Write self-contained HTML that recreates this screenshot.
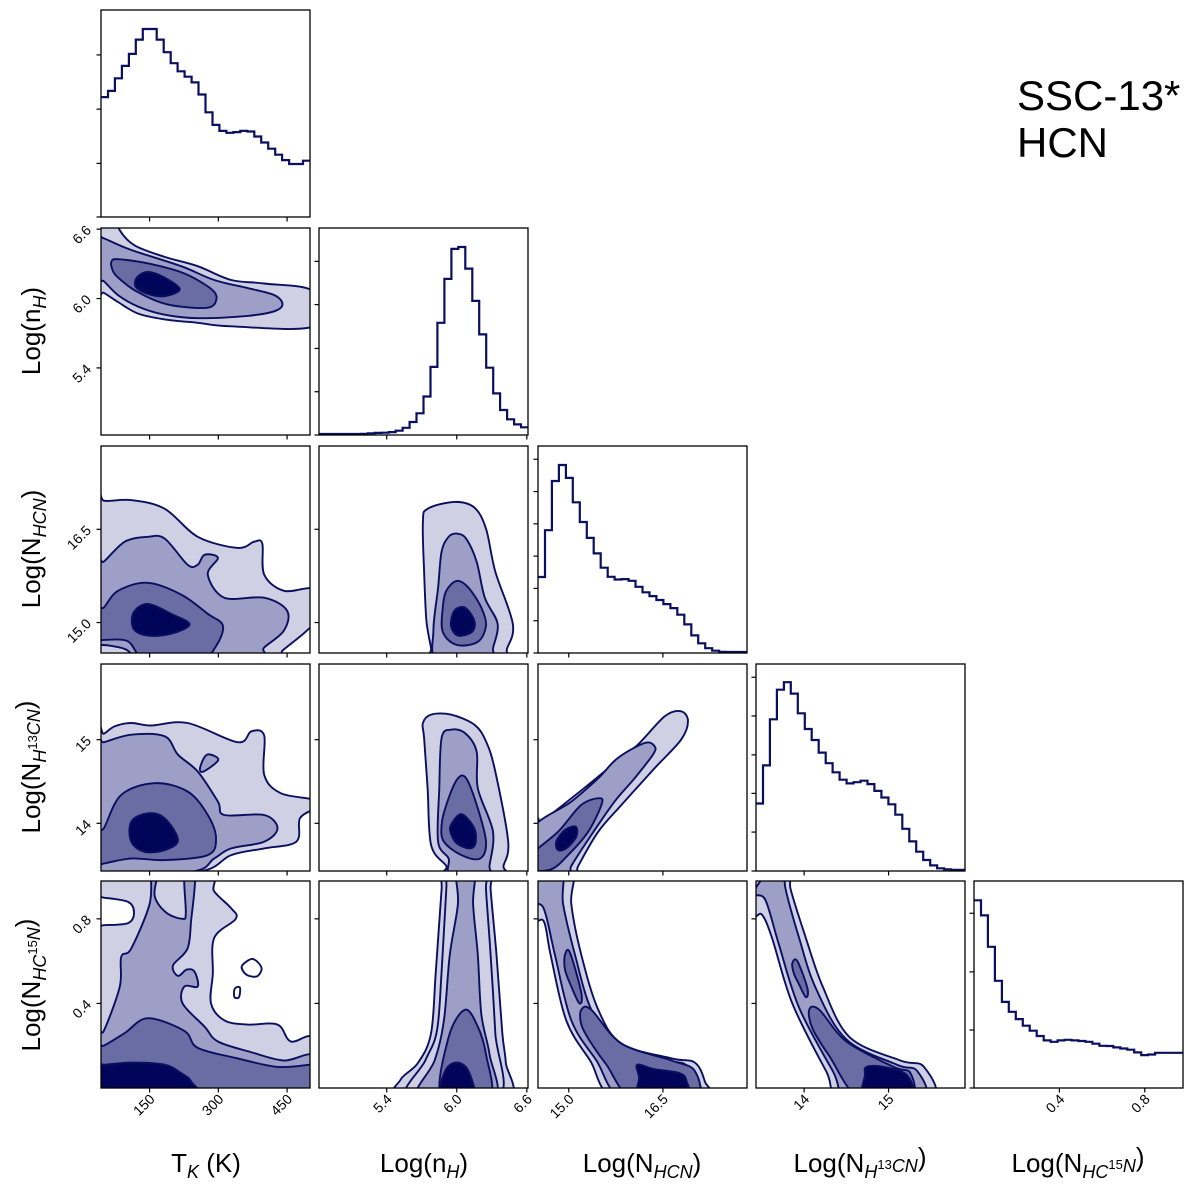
<!DOCTYPE html>
<html><head><meta charset="utf-8">
<style>
html,body{margin:0;padding:0;background:#fff;}
svg{display:block;font-family:"Liberation Sans","DejaVu Sans",sans-serif;}
</style></head>
<body>
<svg id="fig" width="1200" height="1193" viewBox="0 0 1200 1193" xmlns="http://www.w3.org/2000/svg">
<text x="1017" y="110" font-size="42">SSC-13*</text>
<text x="1017" y="157" font-size="42">HCN</text>
<g font-size="26" text-anchor="middle">
<text x="206" y="1172">T<tspan font-size="18" font-style="italic" dy="6">K</tspan><tspan dy="-6"> (K)</tspan></text>
<text x="424" y="1172">Log(n<tspan font-size="18" font-style="italic" dy="6">H</tspan><tspan dy="-6">)</tspan></text>
<text x="642" y="1172">Log(N<tspan font-size="18" font-style="italic" dy="6">HCN</tspan><tspan dy="-6">)</tspan></text>
<text x="860" y="1172">Log(N<tspan font-size="18" font-style="italic" dy="6">H</tspan><tspan font-size="13" dy="-9">13</tspan><tspan font-size="18" font-style="italic" dy="3">CN</tspan><tspan dy="-6">)</tspan></text>
<text x="1078" y="1172">Log(N<tspan font-size="18" font-style="italic" dy="6">HC</tspan><tspan font-size="13" dy="-9">15</tspan><tspan font-size="18" font-style="italic" dy="3">N</tspan><tspan dy="-6">)</tspan></text>
</g>
<g font-size="26" text-anchor="middle">
<text transform="translate(40,331) rotate(-90)">Log(n<tspan font-size="18" font-style="italic" dy="6">H</tspan><tspan dy="-6">)</tspan></text>
<text transform="translate(40,549) rotate(-90)">Log(N<tspan font-size="18" font-style="italic" dy="6">HCN</tspan><tspan dy="-6">)</tspan></text>
<text transform="translate(40,767) rotate(-90)">Log(N<tspan font-size="18" font-style="italic" dy="6">H</tspan><tspan font-size="13" dy="-9">13</tspan><tspan font-size="18" font-style="italic" dy="3">CN</tspan><tspan dy="-6">)</tspan></text>
<text transform="translate(40,985) rotate(-90)">Log(N<tspan font-size="18" font-style="italic" dy="6">HC</tspan><tspan font-size="13" dy="-9">15</tspan><tspan font-size="18" font-style="italic" dy="3">N</tspan><tspan dy="-6">)</tspan></text>
</g>
</svg>
<script>
// ---- data ----
const paramNames = ["tk","nh","nhcn","nh13cn","nhc15n"];
const ranges = [[44,500],[4.82,6.61],[14.51,17.84],[13.43,15.905],[0,0.979]];
const tickVals = [[150,300,450],[5.4,6.0,6.6],[15.0,16.5],[14,15],[0.4,0.8]];
const tickLabels = [["150","300","450"],["5.4","6.0","6.6"],["15.0","16.5"],["14","15"],["0.4","0.8"]];
const histTk = [57.9,60.9,67.0,73.0,78.8,85.7,90.8,90.8,85.7,79.6,74.3,70.4,67.8,65.0,59.2,50.6,44.5,41.6,40.7,41.0,41.6,41.3,38.9,36.0,33.0,30.1,27.5,25.6,25.6,27.2];
const histNh = [0.5,0.5,0.5,0.5,0.5,0.5,0.6,0.8,1.0,1.1,1.4,2.1,3.5,6.3,10.5,18.6,32.9,54.2,75.4,89.9,90.8,80.4,64.8,48.6,32.5,20.1,12.1,7.6,5.1,3.7];
const histHcn = [36.7,59.3,83.1,90.8,84.6,72.8,63.3,55.6,48.1,41.2,36.8,35.5,35.7,34.9,32.0,29.3,27.5,25.6,23.6,21.7,18.5,13.8,8.5,4.7,2.3,1.1,0.6,0.5,0.5,0.5];
const histH13cn = [32.6,51.0,73.3,87.6,91.2,85.7,76.2,68.6,63.3,57.2,52.1,47.7,44.1,42.3,42.9,43.6,42.0,38.7,35.5,32.2,27.2,20.4,14.3,9.3,5.3,2.7,1.3,0.8,0.6,0.6];
const histHc15n = [90.7,83.4,68.2,51.8,41.6,36.8,33.3,30.1,27.7,25.1,23.0,22.3,23.0,23.3,23.0,22.7,22.3,21.4,20.4,20.3,19.6,19.1,18.5,17.2,15.9,16.2,17.0,17.0,17.0,17.0];
const histYTicks = [[0,25.9,52.1,78.3],[0,20.9,41.8,63.0,83.9],[0,15.6,31.2,46.8,62.4,78,93.6],[0,18.8,37.5,56.1,74.9,93.6],[0,28,56.1,84.4]];
const histMax = 100;
// contour polygons: [level, points in data units (x param, y param)]; level -1 = hole
const contour_1_0 = [
 [0,[[38,6.68],[81,6.68],[85,6.59],[117,6.46],[183,6.36],[255,6.28],[328,6.16],[400,6.13],[509,6.06],[509,5.76],[328,5.76],[255,5.79],[183,5.82],[125,5.87],[81,5.97],[50,6.05],[38,6.06]]],
 [1,[[38,6.52],[50,6.52],[110,6.42],[219,6.28],[291,6.16],[364,6.09],[422,6.03],[440,5.95],[422,5.89],[364,5.85],[255,5.83],[183,5.86],[125,5.93],[81,6.03],[50,6.15],[38,6.16]]],
 [2,[[67,6.32],[81,6.34],[151,6.30],[224,6.22],[282,6.09],[296,6.00],[275,5.92],[188,5.95],[122,6.06],[79,6.19],[68,6.26]]],
 [3,[[122,6.18],[146,6.23],[183,6.18],[216,6.08],[183,6.02],[146,6.04],[120,6.10]]]
];
const contour_2_0 = [
 [0,[[38,17.1],[50,16.96],[110,16.97],[183,16.83],[255,16.38],[342,16.2],[378,16.3],[396,16.27],[400,15.77],[443,15.51],[510,15.53],[510,15.05],[490,14.85],[440,14.55],[420,14.4],[38,14.4]]],
 [1,[[38,15.98],[50,15.98],[96,16.3],[146,16.38],[183,16.35],[233,15.93],[255,15.93],[270,16.09],[299,16.04],[277,15.77],[313,15.4],[400,15.4],[450,15.19],[443,14.87],[400,14.6],[372,14.4],[38,14.4]]],
 [2,[[38,15.24],[50,15.24],[81,15.51],[146,15.64],[219,15.45],[277,15.14],[310,14.95],[295,14.62],[259,14.4],[143,14.4],[102,14.7],[50,14.72],[38,14.72]]],
 [0,[[38,14.62],[70,14.62],[102,14.55],[110,14.4],[38,14.4]]],
 [3,[[115,15.16],[146,15.3],[197,15.14],[237,14.97],[197,14.82],[146,14.79],[115,14.9]]]
];
const contour_2_1 = [
 [0,[[5.71,16.62],[5.75,16.83],[5.98,16.94],[6.15,16.85],[6.25,16.51],[6.33,15.82],[6.48,14.98],[6.43,14.58],[6.38,14.4],[5.78,14.4],[5.78,14.58],[5.74,15.03],[5.72,15.82]]],
 [1,[[5.87,16.14],[5.93,16.38],[6.0,16.43],[6.08,16.35],[6.17,15.98],[6.24,15.4],[6.35,14.98],[6.31,14.58],[6.3,14.4],[5.84,14.4],[5.8,14.87],[5.84,15.56]]],
 [2,[[5.91,15.51],[6.0,15.67],[6.1,15.56],[6.21,15.24],[6.25,14.95],[6.18,14.69],[6.0,14.64],[5.88,14.85],[5.88,15.24]]],
 [3,[[5.98,15.19],[6.07,15.24],[6.15,15.03],[6.13,14.85],[6.01,14.79],[5.95,14.95]]]
];
const contour_3_0 = [
 [0,[[38,15.07],[50,15.07],[74,15.16],[110,15.2],[153,15.17],[233,15.2],[342,14.97],[372,15.1],[400,15.05],[400,14.58],[436,14.36],[510,14.28],[510,14.18],[478,14.06],[470,13.78],[400,13.7],[328,13.62],[255,13.42],[38,13.42]]],
 [1,[[38,14.97],[50,14.97],[110,15.06],[183,15.04],[212,14.82],[255,14.62],[299,14.26],[313,14.1],[400,14.1],[429,13.94],[400,13.78],[328,13.7],[291,13.58],[240,13.42],[38,13.42]]],
 [1,[[260,14.66],[275,14.82],[300,14.76],[268,14.62]]],
 [2,[[38,13.94],[50,13.94],[88,14.34],[161,14.48],[233,14.38],[277,14.1],[295,13.82],[277,13.62],[183,13.56],[110,13.58],[50,13.52],[38,13.52]]],
 [3,[[110,14.02],[146,14.12],[183,14.06],[212,13.8],[183,13.68],[139,13.66],[110,13.78]]]
];
const contour_3_1 = [
 [0,[[5.71,15.2],[5.78,15.3],[5.95,15.3],[6.15,15.18],[6.25,14.98],[6.33,14.62],[6.44,13.78],[6.4,13.49],[6.4,13.4],[5.91,13.4],[5.91,13.49],[5.78,13.74],[5.75,14.42],[5.72,15.02]]],
 [1,[[5.87,15.02],[5.95,15.12],[6.07,15.08],[6.17,14.86],[6.18,14.42],[6.31,13.9],[6.28,13.49],[6.28,13.4],[5.95,13.4],[5.93,13.58],[5.84,13.78],[5.85,14.42]]],
 [2,[[5.91,14.22],[6.0,14.52],[6.08,14.54],[6.18,14.18],[6.25,13.78],[6.2,13.58],[6.04,13.62],[5.89,13.78],[5.87,13.98]]],
 [3,[[5.95,13.98],[6.04,14.11],[6.15,13.94],[6.16,13.76],[6.11,13.7],[6.0,13.76],[5.95,13.88]]]
];
const contour_3_2 = [
 [0,[[14.51,14.02],[14.6,14.04],[15.31,14.46],[15.73,14.72],[16.1,14.94],[16.53,15.28],[16.79,15.34],[16.9,15.22],[16.79,15.0],[16.37,14.66],[15.84,14.22],[15.47,13.9],[15.15,13.49],[15.1,13.4],[14.4,13.4]]],
 [1,[[14.4,13.92],[15.04,14.26],[15.47,14.54],[15.78,14.78],[16.21,14.96],[16.37,14.92],[16.34,14.82],[16.05,14.54],[15.73,14.26],[15.36,13.86],[15.04,13.49],[15.02,13.4],[14.4,13.4]]],
 [2,[[14.4,13.62],[14.83,13.9],[15.2,14.22],[15.49,14.3],[15.52,14.22],[15.31,13.9],[14.99,13.62],[14.72,13.45],[14.4,13.45]]],
 [3,[[14.8,13.78],[14.94,13.92],[15.11,13.96],[15.12,13.84],[14.96,13.7],[14.83,13.68]]]
];
const contour_4_0 = [
 [0,[[38,1.02],[270,1.02],[291,0.93],[328,0.85],[338,0.80],[291,0.71],[288,0.54],[284,0.40],[313,0.32],[364,0.30],[429,0.30],[458,0.22],[509,0.23],[509,-0.05],[38,-0.05]]],
 [-1,[[38,0.9],[50,0.9],[103,0.88],[116,0.83],[103,0.78],[50,0.77],[38,0.77]]],
 [-1,[[352,0.58],[375,0.61],[394,0.57],[386,0.53],[367,0.53],[355,0.55]]],
 [-1,[[336,0.47],[347,0.475],[345,0.43],[335,0.43]]],
 [1,[[154,1.02],[168,1.02],[161,0.91],[186,0.83],[222,0.80],[229,0.83],[226,1.02],[248,1.02],[248,0.94],[241,0.80],[233,0.66],[201,0.58],[212,0.53],[231,0.56],[248,0.55],[255,0.48],[226,0.48],[222,0.40],[270,0.29],[299,0.22],[371,0.17],[443,0.13],[509,0.15],[509,-0.05],[38,-0.05],[38,0.27],[50,0.27],[85,0.48],[88,0.62],[110,0.66],[150,0.87]]],
 [2,[[38,0.2],[50,0.2],[96,0.26],[146,0.33],[226,0.27],[255,0.19],[342,0.14],[429,0.10],[500,0.11],[509,0.11],[509,-0.05],[38,-0.05]]],
 [3,[[38,0.11],[50,0.11],[110,0.12],[183,0.11],[219,0.07],[241,0.03],[248,-0.05],[38,-0.05]]]
];
const contour_4_1 = [
 [0,[[5.88,1.02],[6.29,1.02],[6.29,0.94],[6.34,0.63],[6.39,0.26],[6.42,0.12],[6.42,-0.05],[5.51,-0.05],[5.52,0.04],[5.67,0.12],[5.78,0.26],[5.82,0.55],[5.87,0.94]]],
 [0,[[5.93,1.02],[6.25,1.02],[6.25,0.94],[6.29,0.63],[6.33,0.26],[6.35,-0.05],[5.58,-0.05],[5.73,0.13],[5.83,0.27],[5.87,0.55],[5.91,0.94]]],
 [1,[[6.0,1.02],[6.15,1.02],[6.14,0.87],[6.18,0.63],[6.21,0.35],[6.28,0.16],[6.31,-0.05],[5.67,-0.05],[5.81,0.13],[5.89,0.32],[5.94,0.63],[6.01,0.87]]],
 [2,[[5.87,-0.05],[5.93,0.24],[6.07,0.37],[6.18,0.29],[6.25,0.16],[6.28,-0.05]]],
 [3,[[5.86,-0.05],[5.9,0.08],[6.0,0.12],[6.1,0.08],[6.14,-0.05]]]
];
const contour_4_2 = [
 [0,[[14.4,1.02],[15.04,1.02],[15.04,0.87],[15.2,0.63],[15.47,0.37],[15.84,0.21],[16.64,0.14],[17.01,0.12],[17.17,0.03],[17.2,-0.05],[15.76,-0.05],[15.34,0.13],[14.96,0.32],[14.71,0.63],[14.6,0.79],[14.4,0.79]]],
 [1,[[14.4,1.02],[14.88,1.02],[14.91,0.87],[15.1,0.63],[15.36,0.37],[15.78,0.18],[16.53,0.13],[16.9,0.10],[17.06,-0.05],[15.87,-0.05],[15.44,0.13],[15.04,0.32],[14.78,0.63],[14.6,0.85],[14.4,0.88]]],
 [2,[[14.94,0.63],[15.02,0.64],[15.2,0.45],[15.17,0.4],[15.04,0.48],[14.94,0.56]]],
 [2,[[15.2,0.37],[15.36,0.37],[15.84,0.21],[16.64,0.13],[17.01,0.08],[17.01,-0.05],[16.03,-0.05],[15.6,0.11],[15.34,0.22],[15.2,0.3]]],
 [3,[[16.09,0.11],[16.35,0.09],[16.77,0.07],[16.88,0.03],[16.88,-0.05],[16.14,-0.05],[16.12,0.05]]]
];
const contour_4_3 = [
 [0,[[13.4,1.02],[13.82,1.02],[13.84,0.94],[14.02,0.71],[14.22,0.48],[14.54,0.24],[15.14,0.13],[15.42,0.10],[15.5,-0.05],[14.46,-0.05],[14.26,0.08],[13.86,0.4],[13.62,0.71],[13.5,0.82],[13.4,0.82]]],
 [1,[[13.58,1.02],[13.76,1.02],[13.78,0.94],[13.94,0.71],[14.14,0.47],[14.5,0.23],[15.1,0.11],[15.34,0.08],[15.4,-0.05],[14.54,-0.05],[14.34,0.08],[13.94,0.38],[13.7,0.68],[13.54,0.89],[13.4,0.92]]],
 [2,[[13.86,0.59],[13.92,0.6],[14.04,0.47],[14.02,0.43],[13.94,0.49],[13.88,0.54]]],
 [2,[[14.06,0.37],[14.18,0.37],[14.5,0.22],[15.06,0.1],[15.26,0.07],[15.26,-0.05],[14.66,-0.05],[14.3,0.15],[14.1,0.28]]],
 [3,[[14.74,0.1],[14.94,0.1],[15.22,0.06],[15.26,-0.05],[14.72,-0.05],[14.72,0.06]]]
];

// ---- drawing ----
const NS = "http://www.w3.org/2000/svg";
const svg = document.getElementById("fig");
const colX = [101,319,538,756,974], rowY = [10,228,446,664,881], W = 209, H = 207;
const fills = ["#cfd0e3","#9d9fc6","#6a6ca4","#00055a"];
const lineCol = "#0b0f5f";
function sx(p, v){ const r = ranges[p]; return colX[p] + (v - r[0]) / (r[1] - r[0]) * W; }
function sy(row, p, v){ const r = ranges[p]; return rowY[row] + H - (v - r[0]) / (r[1] - r[0]) * H; }
function hy(row, v){ return rowY[row] + H - v / histMax * H; }
function mk(tag, attrs, parent){ const e = document.createElementNS(NS, tag); for (const k in attrs) e.setAttribute(k, attrs[k]); (parent || svg).appendChild(e); return e; }
function smooth(pts){
  const n = pts.length; let d = "M" + pts[0][0].toFixed(1) + "," + pts[0][1].toFixed(1);
  for (let i = 0; i < n; i++){
    const p0 = pts[(i - 1 + n) % n], p1 = pts[i], p2 = pts[(i + 1) % n], p3 = pts[(i + 2) % n];
    const c1x = p1[0] + (p2[0] - p0[0]) / 6, c1y = p1[1] + (p2[1] - p0[1]) / 6;
    const c2x = p2[0] - (p3[0] - p1[0]) / 6, c2y = p2[1] - (p3[1] - p1[1]) / 6;
    d += "C" + c1x.toFixed(1) + "," + c1y.toFixed(1) + " " + c2x.toFixed(1) + "," + c2y.toFixed(1) + " " + p2[0].toFixed(1) + "," + p2[1].toFixed(1);
  }
  return d + "Z";
}
const defs = mk("defs", {});
function panelFrame(row, col){
  const g = mk("g", {});
  
  
  const cp = mk("clipPath", {id: "clip" + row + col}, defs);
  mk("rect", {x: colX[col], y: rowY[row], width: W, height: H}, cp);
  const inner = mk("g", {"clip-path": "url(#clip" + row + col + ")"}, g);
  return [g, inner];
}
function frameAndTicks(g, row, col, isHist){
  const fr = mk("rect", {x: colX[col], y: rowY[row], width: W, height: H, fill: "none", stroke: "#000", "stroke-width": 1.3}, g);
  
  
  const yb = rowY[row] + H;
  tickVals[col].forEach((v, i) => {
    const x = sx(col, v);
    const t = mk("line", {x1: x, x2: x, y1: yb, y2: yb + 4.5, stroke: "#000", "stroke-width": 1.2}, g);
    
    
    if (row === 4){
      const lb = mk("text", {x: x + 6, y: yb + 12, "font-size": 14, "text-anchor": "end", transform: "rotate(-45 " + (x + 6) + " " + (yb + 12) + ")"}, g);
      
      
      lb.textContent = tickLabels[col][i];
    }
  });
  if (isHist){
    histYTicks[col].forEach(v => {
      const y = hy(row, v);
      const t = mk("line", {x1: colX[col] - 4.5, x2: colX[col], y1: y, y2: y, stroke: "#000", "stroke-width": 1.2}, g);
      
      
    });
  } else {
    tickVals[row].forEach((v, i) => {
      const y = sy(row, row, v);
      if (y < rowY[row] - 2 || y > rowY[row] + H + 2) return;
      const t = mk("line", {x1: colX[col] - 4.5, x2: colX[col], y1: y, y2: y, stroke: "#000", "stroke-width": 1.2}, g);
      
      
      if (col === 0){
        const lb = mk("text", {x: 92, y: y + 2, "font-size": 14, "text-anchor": "end", transform: "rotate(-45 92 " + (y + 2) + ")"}, g);
        
        
        lb.textContent = tickLabels[row][i];
      }
    });
  }
}
const hists = [histTk, histNh, histHcn, histH13cn, histHc15n];
hists.forEach((h, p) => {
  const [g, inner] = panelFrame(p, p);
  const r = ranges[p], n = h.length, bw = (r[1] - r[0]) / n;
  let d = "M" + sx(p, r[0]).toFixed(1) + "," + hy(p, h[0]).toFixed(1);
  for (let i = 0; i < n; i++){
    if (i > 0) d += "V" + hy(p, h[i]).toFixed(1);
    d += "H" + sx(p, r[0] + (i + 1) * bw).toFixed(1);
  }
  const path = mk("path", {d: d, fill: "none", stroke: lineCol, "stroke-width": 2.2}, inner);
  
  
  frameAndTicks(g, p, p, true);
});
const contours = {"1_0": contour_1_0, "2_0": contour_2_0, "2_1": contour_2_1, "3_0": contour_3_0, "3_1": contour_3_1, "3_2": contour_3_2, "4_0": contour_4_0, "4_1": contour_4_1, "4_2": contour_4_2, "4_3": contour_4_3};
Object.keys(contours).forEach(key => {
  const [row, col] = key.split("_").map(Number);
  const [g, inner] = panelFrame(row, col);
  contours[key].forEach(([lvl, pts]) => {
    const sp = pts.map(q => [sx(col, q[0]), sy(row, row, q[1])]);
    const path = mk("path", {d: smooth(sp), fill: lvl < 0 ? "#fff" : fills[lvl], stroke: lineCol, "stroke-width": 1.9, "stroke-linejoin": "round"}, inner);
    
    
  });
  frameAndTicks(g, row, col, false);
});
</script>
</body></html>
